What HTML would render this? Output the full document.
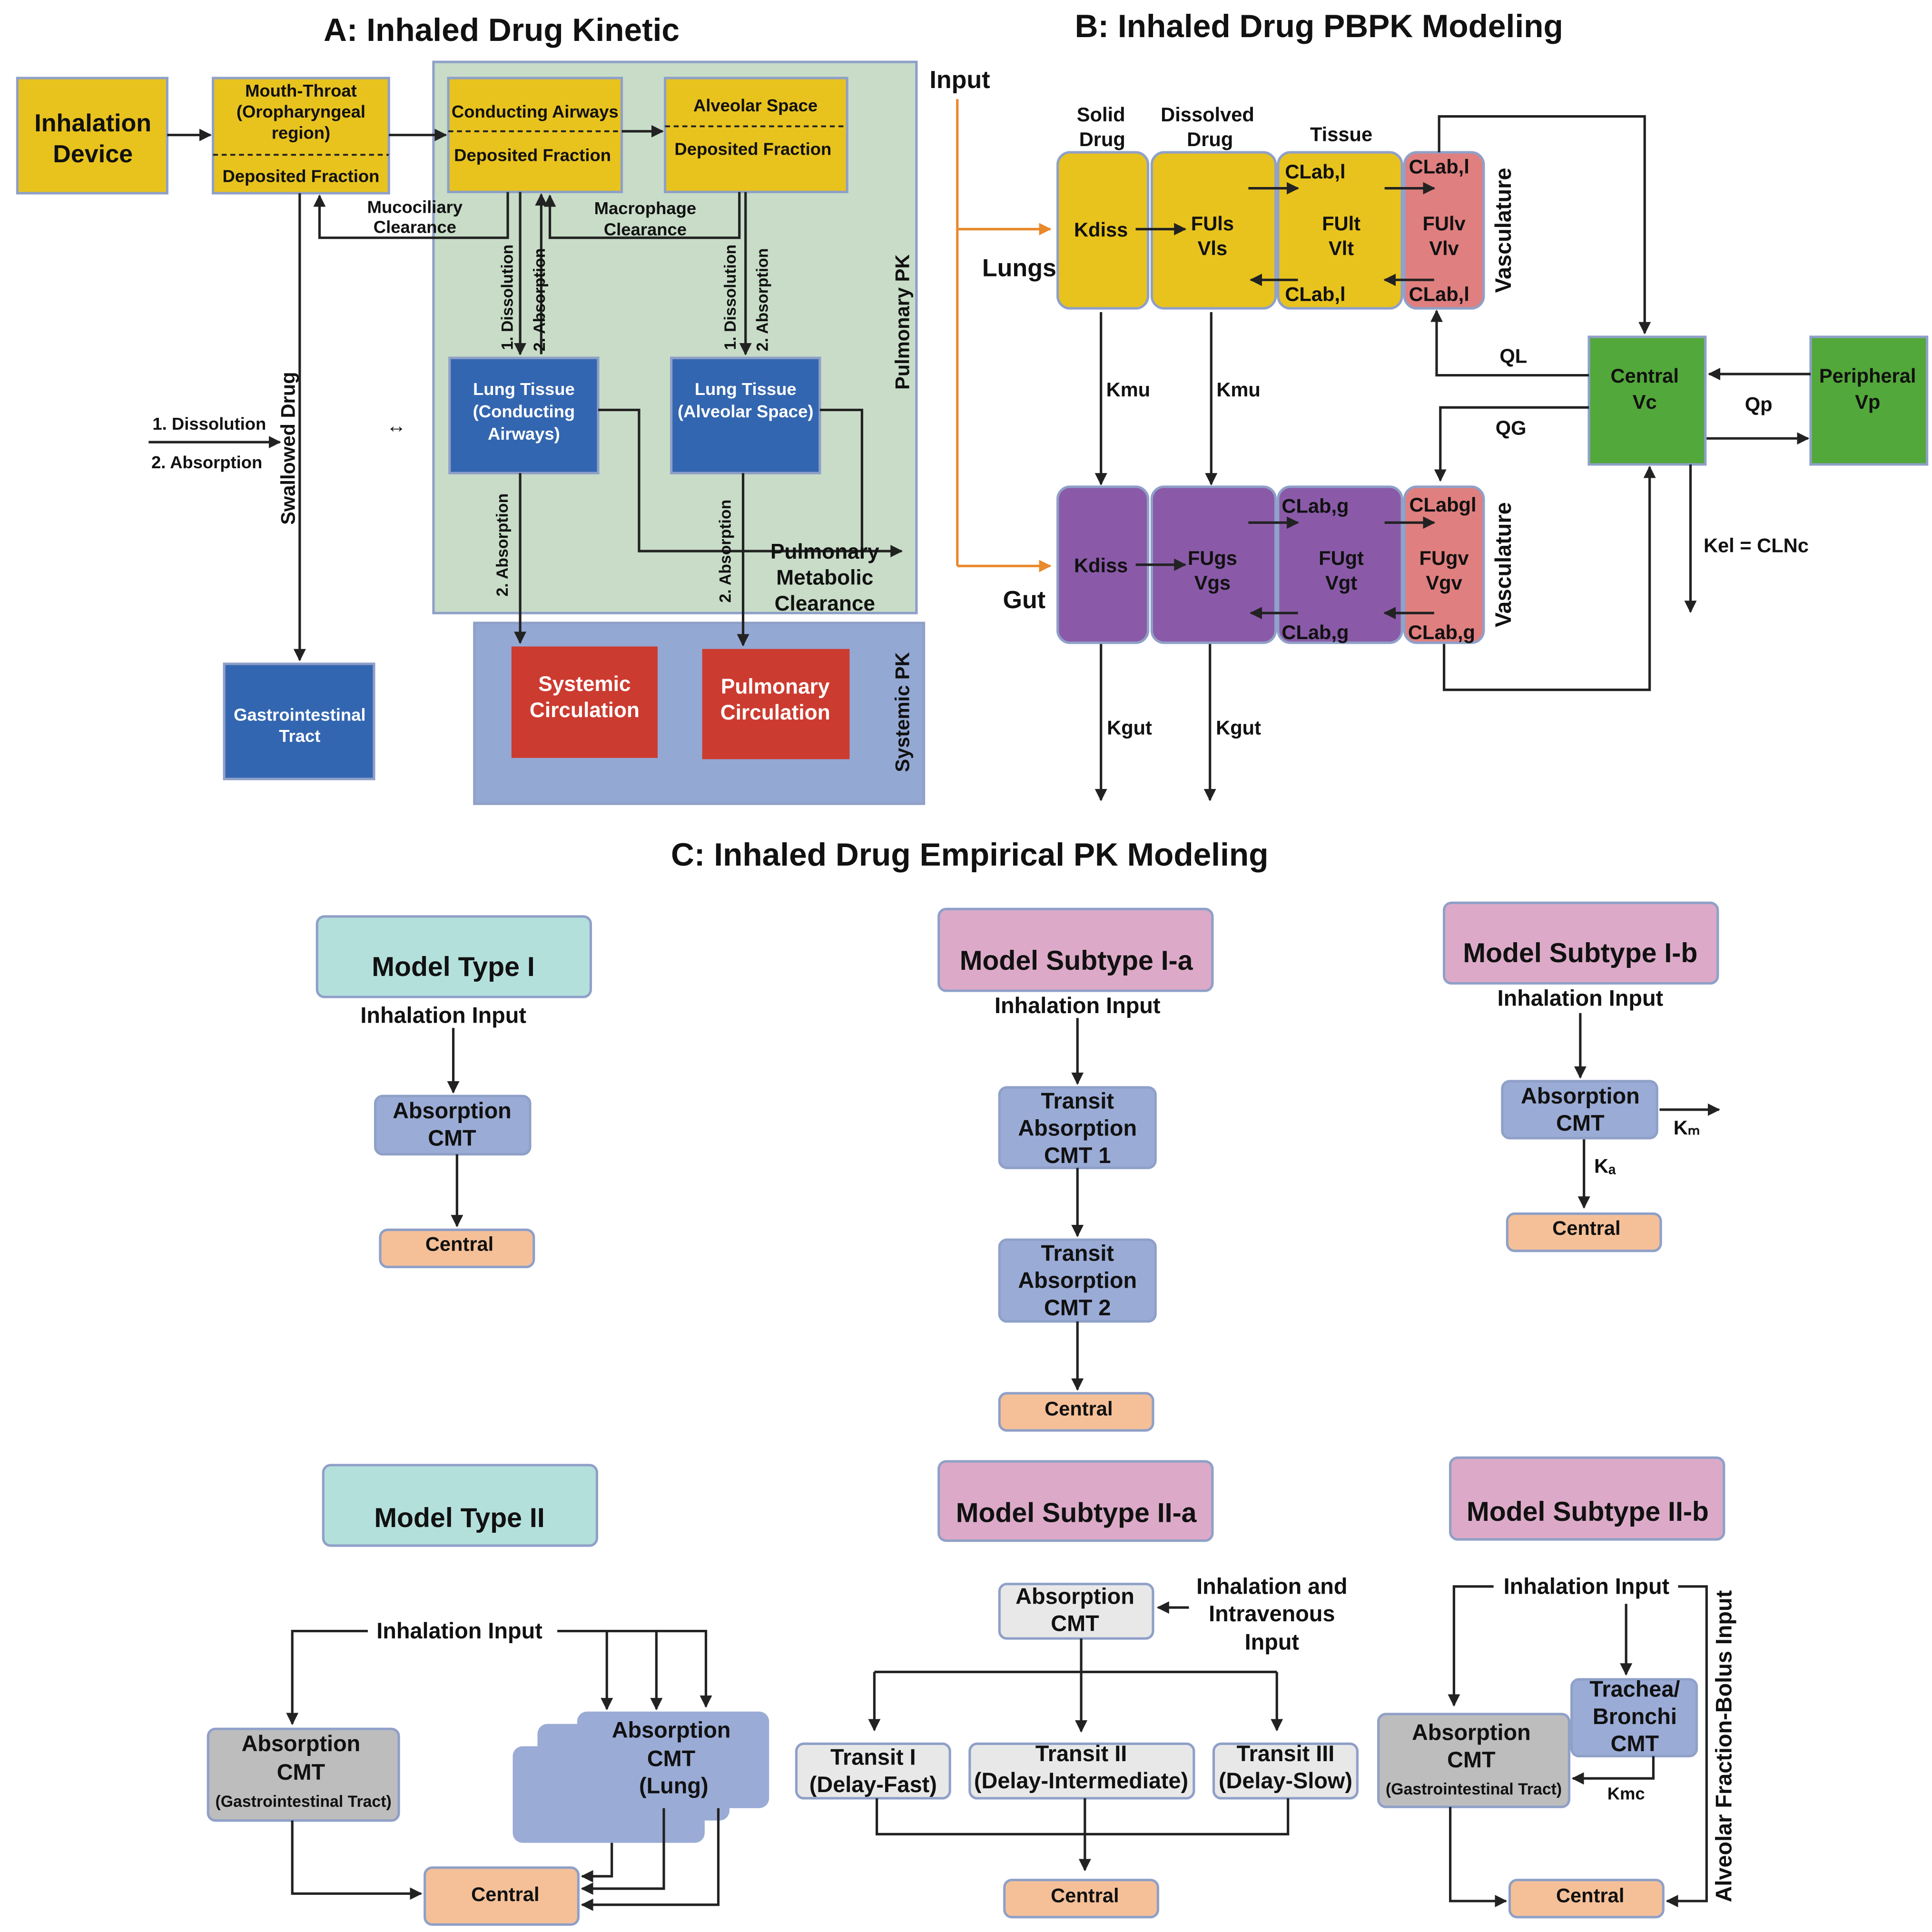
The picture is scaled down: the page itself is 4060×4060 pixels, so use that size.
<!DOCTYPE html>
<html><head><meta charset="utf-8"><style>
html,body{margin:0;padding:0;background:#fff;}
svg{display:block;}
text{font-family:"Liberation Sans",sans-serif;font-weight:bold;fill:#111;text-anchor:middle;}
</style></head><body>
<svg width="4060" height="4060" viewBox="0 0 1560 1560" xmlns="http://www.w3.org/2000/svg">
<defs>
<marker id="a" viewBox="0 0 10 10" refX="9" refY="5" markerWidth="5" markerHeight="5" orient="auto-start-reverse"><path d="M0,0 L10,5 L0,10 z" fill="#222"/></marker>
<marker id="o" viewBox="0 0 10 10" refX="9" refY="5" markerWidth="5" markerHeight="5" orient="auto"><path d="M0,0 L10,5 L0,10 z" fill="#e8892b"/></marker>
</defs>
<g stroke="#8fa0c8" stroke-width="2">
<!-- A -->
<rect x="350" y="50" width="390" height="445" fill="#c8dcc8"/>
<rect x="383" y="503" width="363" height="146" fill="#94a8d4"/>
<rect x="14" y="63" width="121" height="93" fill="#e8c31e"/>
<rect x="172" y="63" width="142" height="93" fill="#e8c31e"/>
<rect x="362" y="63" width="140" height="92" fill="#e8c31e"/>
<rect x="537" y="63" width="147" height="92" fill="#e8c31e"/>
<rect x="363" y="289" width="120" height="93" fill="#3366b0"/>
<rect x="542" y="289" width="120" height="93" fill="#3366b0"/>
<rect x="181" y="536" width="121" height="93" fill="#3366b0"/>
<rect x="413" y="522" width="118" height="90" fill="#cc3b30" stroke="none"/>
<rect x="567" y="524" width="119" height="89" fill="#cc3b30" stroke="none"/>
<!-- B -->
<rect x="854" y="123" width="73" height="126" rx="10" fill="#e8c31e"/>
<rect x="930" y="123" width="100" height="126" rx="10" fill="#e8c31e"/>
<rect x="1032" y="123" width="100" height="126" rx="10" fill="#e8c31e"/>
<rect x="1134" y="123" width="64" height="126" rx="10" fill="#e07f7f"/>
<rect x="854" y="393" width="73" height="126" rx="10" fill="#8a5aa8"/>
<rect x="930" y="393" width="100" height="126" rx="10" fill="#8a5aa8"/>
<rect x="1032" y="393" width="100" height="126" rx="10" fill="#8a5aa8"/>
<rect x="1134" y="393" width="64" height="126" rx="10" fill="#e07f7f"/>
<rect x="1283" y="272" width="94" height="103" fill="#52a83a"/>
<rect x="1462" y="272" width="94" height="103" fill="#52a83a"/>
<!-- C -->
<rect x="256" y="740" width="221" height="65" rx="6" fill="#b4e0dc"/>
<rect x="303" y="885" width="125" height="47" rx="6" fill="#9aabd6"/>
<rect x="307" y="993" width="124" height="30" rx="6" fill="#f5c098"/>
<rect x="758" y="734" width="221" height="66" rx="6" fill="#dcaac8"/>
<rect x="807" y="878" width="126" height="65" rx="6" fill="#9aabd6"/>
<rect x="807" y="1001" width="126" height="66" rx="6" fill="#9aabd6"/>
<rect x="807" y="1125" width="124" height="30" rx="6" fill="#f5c098"/>
<rect x="1166" y="729" width="221" height="65" rx="6" fill="#dcaac8"/>
<rect x="1213" y="873" width="125" height="46" rx="6" fill="#9aabd6"/>
<rect x="1217" y="980" width="124" height="30" rx="6" fill="#f5c098"/>
<rect x="261" y="1183" width="221" height="65" rx="6" fill="#b4e0dc"/>
<rect x="168" y="1396" width="154" height="74" rx="6" fill="#bdbdbd"/>
<rect x="414" y="1410" width="155" height="78" rx="8" fill="#9aabd6" stroke="none"/>
<rect x="434" y="1392" width="155" height="78" rx="8" fill="#9aabd6" stroke="none"/>
<rect x="466" y="1382" width="155" height="78" rx="8" fill="#9aabd6" stroke="none"/>
<rect x="343" y="1508" width="124" height="46" rx="6" fill="#f5c098"/>
<rect x="758" y="1180" width="221" height="64" rx="6" fill="#dcaac8"/>
<rect x="807" y="1279" width="124" height="44" rx="6" fill="#e8e8e8"/>
<rect x="643" y="1408" width="124" height="44" rx="6" fill="#e8e8e8"/>
<rect x="783" y="1408" width="181" height="44" rx="6" fill="#e8e8e8"/>
<rect x="980" y="1408" width="116" height="44" rx="6" fill="#e8e8e8"/>
<rect x="811" y="1518" width="124" height="30" rx="6" fill="#f5c098"/>
<rect x="1171" y="1177" width="221" height="66" rx="6" fill="#dcaac8"/>
<rect x="1113" y="1384" width="154" height="75" rx="6" fill="#bdbdbd"/>
<rect x="1269" y="1356" width="101" height="62" rx="6" fill="#9aabd6"/>
<rect x="1219" y="1518" width="124" height="30" rx="6" fill="#f5c098"/>
</g>
<g stroke="#222" stroke-width="1.5" stroke-dasharray="4,3">
<line x1="172" y1="125" x2="314" y2="125"/><line x1="362" y1="106" x2="502" y2="106"/><line x1="537" y1="102" x2="684" y2="102"/>
</g>
<g stroke="#222" stroke-width="2" fill="none" marker-end="url(#a)">
<line x1="135" y1="109" x2="170" y2="109"/><line x1="314" y1="109" x2="360" y2="109"/><line x1="502" y1="106" x2="535" y2="106"/>
<polyline points="410,155 410,192 258,192 258,158"/>
<polyline points="597,155 597,192 444,192 444,158"/>
<line x1="420" y1="155" x2="420" y2="286"/><line x1="437" y1="286" x2="437" y2="157"/>
<line x1="602" y1="155" x2="602" y2="286"/>
<polyline points="483,331 516,331 516,445 728,445"/>
<polyline points="662,331 696,331 696,445" marker-end="none"/>
<line x1="420" y1="382" x2="420" y2="519"/><line x1="600" y1="382" x2="600" y2="521"/>
<line x1="242" y1="156" x2="242" y2="533"/>
<line x1="120" y1="357" x2="226" y2="357"/>
<line x1="917" y1="185" x2="957" y2="185"/><line x1="917" y1="456" x2="957" y2="456"/>
<line x1="1008" y1="152" x2="1048" y2="152"/><line x1="1048" y1="226" x2="1010" y2="226"/>
<line x1="1118" y1="152" x2="1158" y2="152"/><line x1="1158" y1="226" x2="1118" y2="226"/>
<line x1="1008" y1="422" x2="1048" y2="422"/><line x1="1048" y1="495" x2="1010" y2="495"/>
<line x1="1118" y1="422" x2="1158" y2="422"/><line x1="1158" y1="495" x2="1118" y2="495"/>
<line x1="889" y1="252" x2="889" y2="391"/><line x1="978" y1="252" x2="978" y2="391"/>
<line x1="889" y1="520" x2="889" y2="646"/><line x1="977" y1="520" x2="977" y2="646"/>
<line x1="1462" y1="302" x2="1380" y2="302"/><line x1="1378" y1="354" x2="1460" y2="354"/>
<polyline points="1283,303 1160,303 1160,251"/>
<polyline points="1283,329 1163,329 1163,388"/>
<polyline points="1162,123 1162,94 1328,94 1328,269"/>
<polyline points="1166,520 1166,557 1332,557 1332,377"/>
<line x1="1365" y1="375" x2="1365" y2="494"/>
<line x1="366" y1="830" x2="366" y2="882"/><line x1="369" y1="932" x2="369" y2="990"/>
<line x1="870" y1="822" x2="870" y2="875"/><line x1="870" y1="943" x2="870" y2="998"/><line x1="870" y1="1067" x2="870" y2="1122"/>
<line x1="1276" y1="818" x2="1276" y2="870"/><line x1="1340" y1="896" x2="1388" y2="896"/><line x1="1279" y1="920" x2="1279" y2="975"/>
<polyline points="297,1317 236,1317 236,1392"/>
<polyline points="450,1317 570,1317 570,1378"/>
<line x1="490" y1="1317" x2="490" y2="1380"/><line x1="530" y1="1317" x2="530" y2="1380"/>
<polyline points="236,1470 236,1529 340,1529"/>
<polyline points="580,1460 580,1538 470,1538"/>
<polyline points="536,1460 536,1525 470,1525"/>
<polyline points="494,1488 494,1515 470,1515"/>
<line x1="960" y1="1298" x2="935" y2="1298"/>
<line x1="873" y1="1323" x2="873" y2="1398"/>
<polyline points="706,1350 706,1397" /><polyline points="1031,1350 1031,1397"/>
<line x1="876" y1="1452" x2="876" y2="1510"/>
<polyline points="1206,1281 1174,1281 1174,1377"/>
<polyline points="1355,1281 1378,1281 1378,1535 1346,1535"/>
<line x1="1313" y1="1295" x2="1313" y2="1352"/>
<polyline points="1335,1418 1335,1436 1270,1436"/>
<polyline points="1171,1459 1171,1535 1216,1535"/>
</g>
<g stroke="#222" stroke-width="2" fill="none">
<line x1="706" y1="1350" x2="1031" y2="1350"/>
<polyline points="708,1452 708,1481 1040,1481 1040,1452"/>
</g>
<g stroke="#e8892b" stroke-width="2" fill="none">
<polyline points="773,80 773,457"/>
<line x1="773" y1="185" x2="848" y2="185" marker-end="url(#o)"/>
<line x1="773" y1="457" x2="848" y2="457" marker-end="url(#o)"/>
</g>
<!-- titles -->
<text x="405" y="33" font-size="26">A: Inhaled Drug Kinetic</text>
<text x="1065" y="30" font-size="26">B: Inhaled Drug PBPK Modeling</text>
<text x="783" y="699" font-size="26">C: Inhaled Drug Empirical PK Modeling</text>
<!-- A text -->
<text x="75" y="106" font-size="20">Inhalation</text><text x="75" y="131" font-size="20">Device</text>
<text x="243" y="78" font-size="14">Mouth-Throat</text><text x="243" y="95" font-size="14">(Oropharyngeal</text><text x="243" y="112" font-size="14">region)</text>
<text x="243" y="147" font-size="14">Deposited Fraction</text>
<text x="432" y="95" font-size="14">Conducting Airways</text><text x="430" y="130" font-size="14">Deposited Fraction</text>
<text x="610" y="90" font-size="14">Alveolar Space</text><text x="608" y="125" font-size="14">Deposited Fraction</text>
<text x="335" y="172" font-size="14">Mucociliary</text><text x="335" y="188" font-size="14">Clearance</text>
<text x="521" y="173" font-size="14">Macrophage</text><text x="521" y="190" font-size="14">Clearance</text>
<text font-size="13" transform="translate(414,240) rotate(-90)">1. Dissolution</text>
<text font-size="13" transform="translate(440,242) rotate(-90)">2. Absorption</text>
<text font-size="13" transform="translate(594,240) rotate(-90)">1. Dissolution</text>
<text font-size="13" transform="translate(620,242) rotate(-90)">2. Absorption</text>
<text font-size="13" transform="translate(410,440) rotate(-90)">2. Absorption</text>
<text font-size="13" transform="translate(590,445) rotate(-90)">2. Absorption</text>
<g font-size="14"><text x="423" y="319" style="fill:#fff">Lung Tissue</text><text x="423" y="337" style="fill:#fff">(Conducting</text><text x="423" y="355" style="fill:#fff">Airways)</text>
<text x="602" y="319" style="fill:#fff">Lung Tissue</text><text x="602" y="337" style="fill:#fff">(Alveolar Space)</text>
<text x="242" y="582" style="fill:#fff">Gastrointestinal</text><text x="242" y="599" style="fill:#fff">Tract</text></g>
<text font-size="16" transform="translate(734,260) rotate(-90)">Pulmonary PK</text>
<text font-size="16" transform="translate(734,575) rotate(-90)">Systemic PK</text>
<text x="666" y="451" font-size="17">Pulmonary</text><text x="666" y="472" font-size="17">Metabolic</text><text x="666" y="493" font-size="17">Clearance</text>
<text x="472" y="558" font-size="17" style="fill:#fff">Systemic</text><text x="472" y="579" font-size="17" style="fill:#fff">Circulation</text>
<text x="626" y="560" font-size="17" style="fill:#fff">Pulmonary</text><text x="626" y="581" font-size="17" style="fill:#fff">Circulation</text>
<text font-size="16" transform="translate(238,362) rotate(-90)">Swallowed Drug</text>
<text x="169" y="347" font-size="14">1.  Dissolution</text><text x="167" y="378" font-size="14">2. Absorption</text>
<text x="320" y="349" font-size="16">↔</text>
<!-- B text -->
<text x="775" y="71" font-size="20">Input</text>
<text x="823" y="223" font-size="20">Lungs</text><text x="827" y="491" font-size="20">Gut</text>
<text x="889" y="98" font-size="16">Solid</text><text x="890" y="118" font-size="16">Drug</text>
<text x="975" y="98" font-size="16">Dissolved</text><text x="977" y="118" font-size="16">Drug</text>
<text x="1083" y="114" font-size="16">Tissue</text>
<g font-size="16"><text x="889" y="191">Kdiss</text><text x="979" y="186">FUls</text><text x="979" y="206">Vls</text>
<text x="1083" y="186">FUlt</text><text x="1083" y="206">Vlt</text>
<text x="1062" y="144">CLab,l</text><text x="1062" y="243">CLab,l</text>
<text x="1166" y="186">FUlv</text><text x="1166" y="206">Vlv</text><text x="1162" y="140">CLab,l</text><text x="1162" y="243">CLab,l</text>
<text x="889" y="462">Kdiss</text><text x="979" y="456">FUgs</text><text x="979" y="476">Vgs</text>
<text x="1083" y="456">FUgt</text><text x="1083" y="476">Vgt</text>
<text x="1062" y="414">CLab,g</text><text x="1062" y="516">CLab,g</text>
<text x="1166" y="456">FUgv</text><text x="1166" y="476">Vgv</text><text x="1165" y="413">CLabgl</text><text x="1164" y="516">CLab,g</text>
<text x="911" y="320">Kmu</text><text x="1000" y="320">Kmu</text><text x="912" y="593">Kgut</text><text x="1000" y="593">Kgut</text>
<text x="1328" y="309">Central</text><text x="1328" y="330">Vc</text>
<text x="1508" y="309">Peripheral</text><text x="1508" y="330">Vp</text>
<text x="1222" y="293">QL</text><text x="1220" y="351">QG</text><text x="1420" y="332">Qp</text><text x="1418" y="446">Kel = CLNc</text></g>
<text font-size="18" transform="translate(1220,186) rotate(-90)">Vasculature</text>
<text font-size="18" transform="translate(1220,456) rotate(-90)">Vasculature</text>
<!-- C text -->
<g font-size="22"><text x="366" y="788">Model Type I</text><text x="869" y="783">Model Subtype I-a</text><text x="1276" y="777">Model Subtype I-b</text>
<text x="371" y="1233">Model Type II</text><text x="869" y="1229">Model Subtype II-a</text><text x="1282" y="1228">Model Subtype II-b</text></g>
<g font-size="18"><text x="358" y="826">Inhalation Input</text><text x="870" y="818">Inhalation Input</text><text x="1276" y="812">Inhalation Input</text>
<text x="365" y="903">Absorption</text><text x="365" y="925">CMT</text>
<text x="870" y="895">Transit</text><text x="870" y="917">Absorption</text><text x="870" y="939">CMT 1</text>
<text x="870" y="1018">Transit</text><text x="870" y="1040">Absorption</text><text x="870" y="1062">CMT 2</text>
<text x="1276" y="891">Absorption</text><text x="1276" y="913">CMT</text>
<text x="371" y="1323">Inhalation Input</text>
<text x="243" y="1414">Absorption</text><text x="243" y="1437">CMT</text>
<text x="542" y="1403">Absorption</text><text x="542" y="1426">CMT</text><text x="544" y="1448">(Lung)</text>
<text x="868" y="1295">Absorption</text><text x="868" y="1317">CMT</text>
<text x="1027" y="1287">Inhalation and</text><text x="1027" y="1309">Intravenous</text><text x="1027" y="1332">Input</text>
<text x="705" y="1425">Transit I</text><text x="705" y="1447">(Delay-Fast)</text>
<text x="873" y="1422">Transit II</text><text x="873" y="1444">(Delay-Intermediate)</text>
<text x="1038" y="1422">Transit III</text><text x="1038" y="1444">(Delay-Slow)</text>
<text x="1281" y="1287">Inhalation Input</text>
<text x="1188" y="1405">Absorption</text><text x="1188" y="1427">CMT</text>
<text x="1320" y="1370">Trachea/</text><text x="1320" y="1392">Bronchi</text><text x="1320" y="1414">CMT</text></g>
<g font-size="16"><text x="371" y="1010">Central</text><text x="871" y="1143">Central</text><text x="1281" y="997">Central</text>
<text x="408" y="1535">Central</text><text x="876" y="1536">Central</text><text x="1284" y="1536">Central</text>
<text x="1362" y="916">Kₘ</text><text x="1296" y="947">Kₐ</text><text x="1313" y="1453" font-size="14">Kmc</text></g>
<text x="245" y="1459" font-size="13">(Gastrointestinal Tract)</text>
<text x="1190" y="1449" font-size="13">(Gastrointestinal Tract)</text>
<text font-size="18" transform="translate(1398,1410) rotate(-90)">Alveolar Fraction-Bolus Input</text>
</svg>
</body></html>
